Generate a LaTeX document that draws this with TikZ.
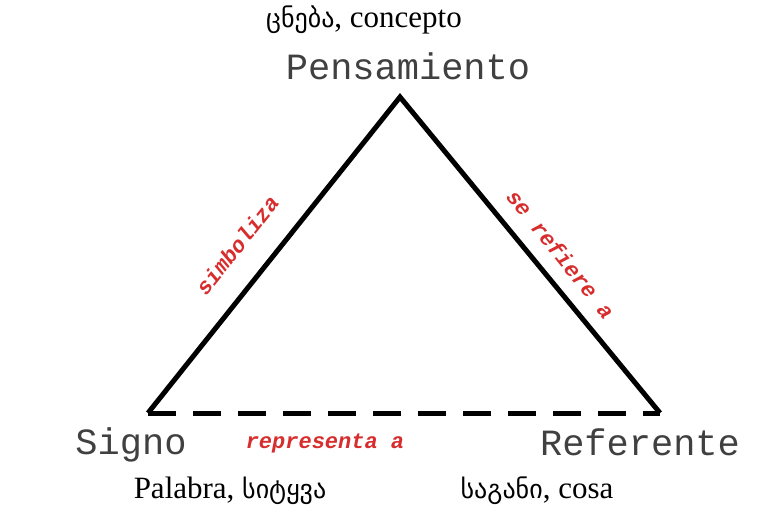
\documentclass[tikz,border=0pt]{standalone}
\usepackage{fontspec}
\setmainfont{Liberation Serif}
\newfontfamily\courf{Liberation Mono}
\newfontfamily\geof[Script=Georgian]{DejaVu Sans}
\definecolor{lblred}{RGB}{215,45,45}
\newcommand{\geo}[1]{{\geof\fontsize{26}{26}\selectfont #1}}
\begin{document}
\begin{tikzpicture}[x=1pt,y=-1pt,
  vertex/.style={inner sep=0pt, font=\courf\fontsize{37}{37}\selectfont, text=black!75},
  rel/.style={inner sep=0pt, font=\courf\bfseries\itshape\fontsize{22}{22}\selectfont, text=lblred},
  gloss/.style={inner sep=0pt, font=\fontsize{31}{31}\selectfont},
  side/.style={line width=5pt, line join=miter, line cap=butt}]
\useasboundingbox (0,0) rectangle (766,522);
\fill[white] (0,0) rectangle (766,522);
\coordinate (A) at (400,97);
\coordinate (L) at (148,413);
\coordinate (R) at (660,413);
\draw[side] (L) -- (A) -- (R);
\draw[line width=5pt, dash pattern=on 28pt off 17pt] (L) -- (R);
\node[gloss] (gtop) at (364,20) {\geo{ცნება}, concepto};
\node[vertex] (pens) at (408,66) {Pensamiento};
\node[vertex] (sig) at (131,445) {Signo};
\node[vertex] (ref) at (640,442) {Referente};
\node[rel] (repr) at (325,443) {representa a};
\node[rel, rotate=51.4] (simb) at (237,245) {simboliza};
\node[rel, rotate=-51.4] (sref) at (561,254) {se refiere a};
\node[gloss] (pal) at (230,491) {Palabra, \geo{სიტყვა}};
\node[gloss] (cosa) at (537,491) {\geo{საგანი}, cosa};
\end{tikzpicture}
\end{document}
